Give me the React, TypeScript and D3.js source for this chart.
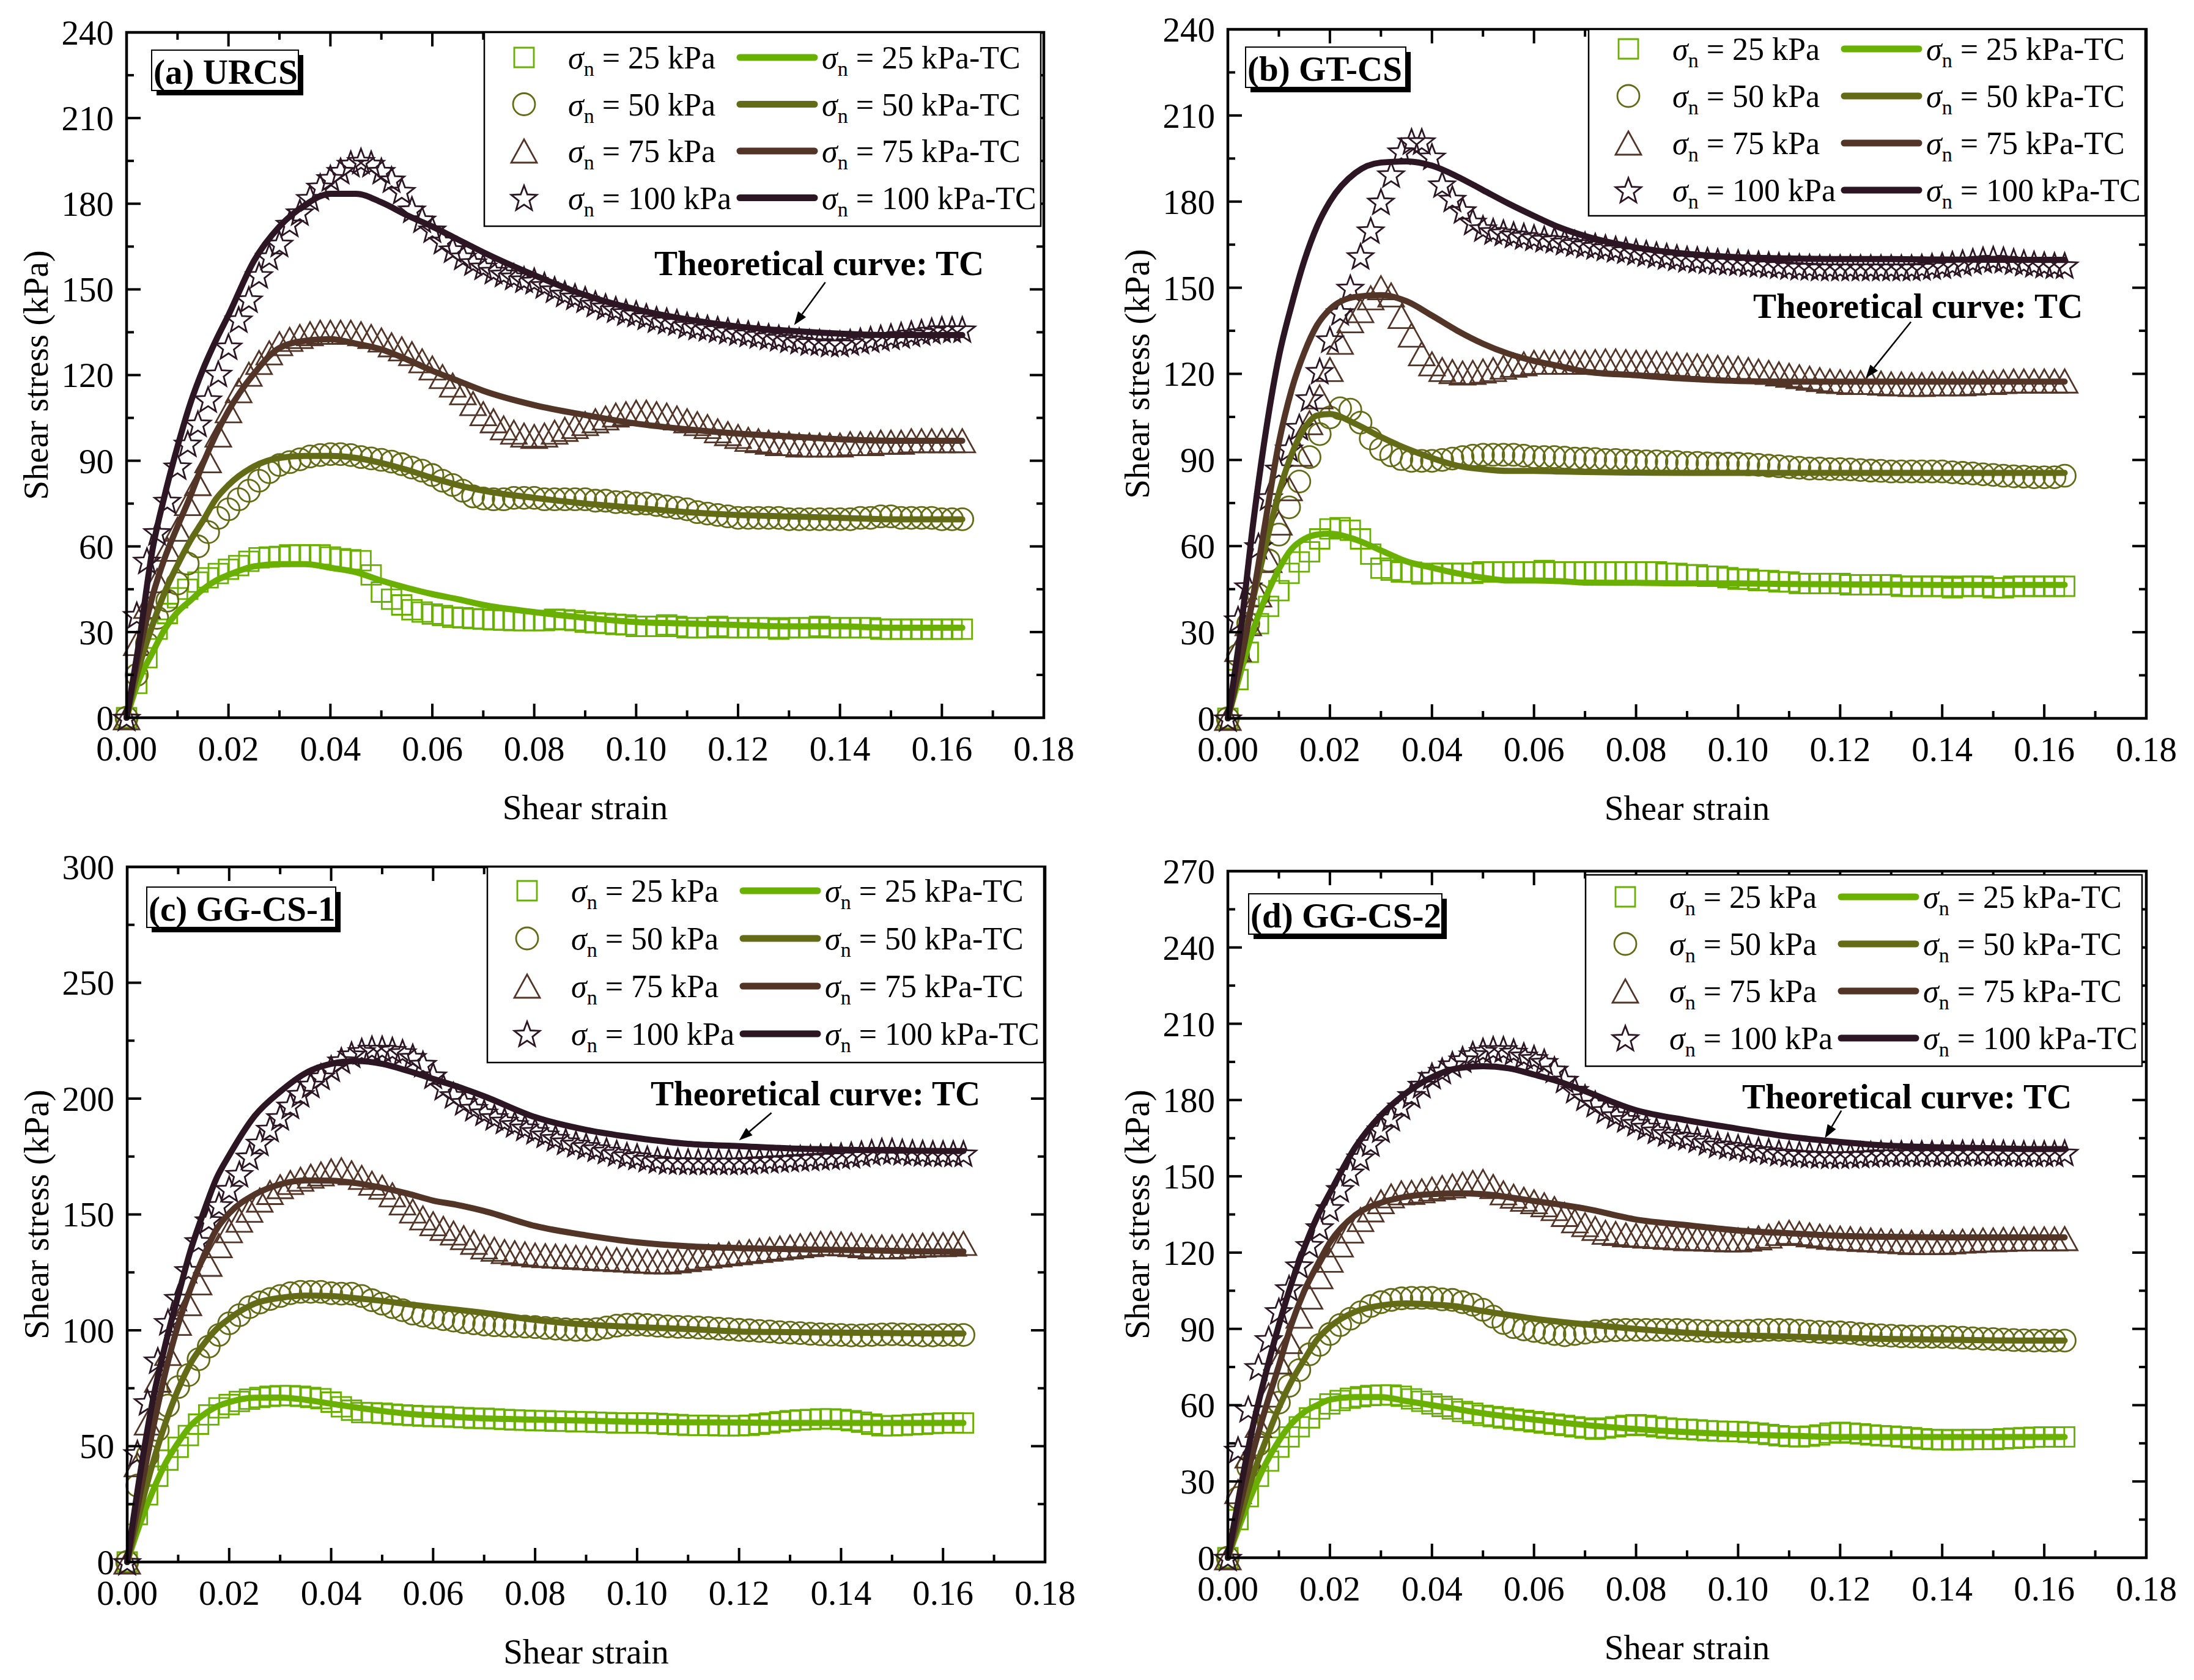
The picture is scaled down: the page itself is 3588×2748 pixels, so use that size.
import React from "react";
import * as d3 from "d3";

// shear strain of the measured points and of the theoretical curves
const strain = [
  0, 0.002, 0.004, 0.006, 0.008, 0.01, 0.012, 0.014, 0.016, 0.018,
  0.02, 0.022, 0.024, 0.026, 0.028, 0.03, 0.032, 0.034, 0.036, 0.038,
  0.04, 0.042, 0.044, 0.046, 0.048, 0.05, 0.052, 0.054, 0.056, 0.058,
  0.06, 0.062, 0.064, 0.066, 0.068, 0.07, 0.072, 0.074, 0.076, 0.078,
  0.08, 0.082, 0.084, 0.086, 0.088, 0.09, 0.092, 0.094, 0.096, 0.098,
  0.1, 0.102, 0.104, 0.106, 0.108, 0.11, 0.112, 0.114, 0.116, 0.118,
  0.12, 0.122, 0.124, 0.126, 0.128, 0.13, 0.132, 0.134, 0.136, 0.138,
  0.14, 0.142, 0.144, 0.146, 0.148, 0.15, 0.152, 0.154, 0.156, 0.158,
  0.16, 0.162, 0.164,
];
const tcStrain = [
  0, 0.0025, 0.005, 0.0075, 0.01, 0.0125, 0.015, 0.0175, 0.02,
  0.025, 0.03, 0.035, 0.04, 0.045, 0.05, 0.055, 0.06, 0.065, 0.07,
  0.08, 0.09, 0.1, 0.11, 0.12, 0.13, 0.14, 0.15, 0.16, 0.164,
];

const loads = ["25", "50", "75", "100"];
const colors = ["#69b000", "#646b17", "#533528", "#2c1623"];
const xTicks = [0, 0.02, 0.04, 0.06, 0.08, 0.1, 0.12, 0.14, 0.16, 0.18];
const yTicks240 = [0, 30, 60, 90, 120, 150, 180, 210, 240];
const yTicks300 = [0, 50, 100, 150, 200, 250, 300];
const yTicks270 = [0, 30, 60, 90, 120, 150, 180, 210, 240, 270];

// (a) URCS
const aExp25 = [
  0, 12, 21, 31, 36.5, 42, 45, 47.5, 49, 50.5,
  52, 53.3, 54.8, 56, 56.3, 56.5, 57, 57, 57, 57,
  56.3, 55.7, 55.3, 55, 50, 44, 41.5, 39.5, 37.8, 37,
  36.3, 35.8, 35.2, 35, 34.7, 34.5, 34.3, 34.2, 34, 34,
  34, 34, 34.5, 34.3, 34, 33.5, 33.2, 33, 32.7, 32.5,
  32, 32, 32, 32.5, 32, 31.5, 31.5, 31.5, 32, 31.5,
  31.5, 31.5, 31.5, 31.5, 31, 31.5, 31.5, 31.5, 32, 31.5,
  31.5, 31.5, 31.5, 31.5, 31, 31, 31, 31, 31, 31,
  31, 31, 31,
];
const aExp50 = [
  0, 15, 26, 35, 41, 47, 54, 60, 65, 70,
  73, 76.5, 79.5, 83, 86, 88.5, 89.5, 90.5, 91.5, 92,
  92.3, 92.3, 92, 91.3, 90.8, 90.3, 89.7, 88.8, 87.6, 86.5,
  85, 83, 81.5, 79.5, 77.5, 76.8, 76.5, 76.5, 77, 77,
  77, 76.5, 76.5, 76.5, 76.5, 76.5, 76, 76, 75.5, 75.5,
  75, 75, 74.5, 74, 73.5, 73, 72, 71.5, 71, 70.5,
  70, 70, 70, 70, 70, 69.5, 69.5, 69.5, 69.5, 69.5,
  69.5, 69.5, 70, 70, 70.5, 70.5, 70, 70, 70, 70,
  69.5, 69.5, 69.5,
];
const aExp75 = [
  0, 26, 39, 48, 59, 66, 75, 82, 90, 99,
  107.5, 114.5, 120.3, 124.4, 127.8, 131, 132.5, 133.5, 134.5, 135,
  135, 135, 135, 134.5, 133.5, 132.3, 130.6, 129.2, 127.5, 125,
  122.5, 119.5, 116.5, 113.8, 110, 106.5, 104, 101.5, 100, 99,
  98.5, 99, 100, 101, 102, 103, 104, 105, 106, 106.5,
  107, 107, 106.5, 106, 105, 104, 103, 102, 100.5, 99.5,
  98.5, 97.5, 97, 96.5, 96, 96, 95.5, 95.5, 95.5, 95.5,
  95.5, 96, 96, 96, 96.5, 96.5, 96.5, 97, 97, 97,
  97, 97, 97,
];
const aExp100 = [
  0, 36, 55, 65, 76, 88, 96, 103, 111.5, 120.5,
  130, 139.5, 146.5, 155, 161.5, 166, 173, 177, 182, 186,
  189, 191.5, 194, 195, 194, 191.5, 188.5, 184.5, 178, 174.5,
  171, 167, 164, 161.5, 159.5, 158, 156.5, 155.5, 154.5, 153.5,
  153, 151.5, 150, 148.5, 147.5, 146.5, 145, 144, 143, 142,
  141.5, 140.5, 139.5, 139, 138.5, 137.5, 137, 136.5, 136, 135.5,
  135, 134.5, 134, 133.5, 133, 132.5, 132, 131.5, 131.5, 131,
  131, 131.5, 132, 132.5, 133, 133.5, 134, 134.5, 135, 135.5,
  136, 136, 136,
];
const aTc25 = [0, 13.5, 22.5, 31, 37, 41, 45, 48, 50, 53, 53.8, 53.8, 52.5, 51, 48, 45.5, 43.3, 41.5, 39.5, 37, 35, 33.5, 33, 32.5, 32, 32, 31.5, 31.5, 31.5];
const aTc50 = [0, 18, 32, 44, 53.5, 62, 69, 76.5, 81.5, 88, 91, 91.7, 91.7, 91, 89.2, 86.8, 84, 81.5, 79.5, 77, 75, 73.5, 72, 71, 70.5, 70, 69.5, 69.5, 69.5];
const aTc75 = [0, 23, 42, 56, 67, 77.5, 89, 99, 107.5, 120.5, 129.5, 132, 132.6, 131, 129, 125.5, 121.5, 118, 114.5, 109.5, 106, 103, 101, 99.5, 98.5, 97.5, 97, 97, 97];
const aTc100 = [0, 27, 58, 78, 95, 110, 122, 132, 141, 160, 172, 179.5, 183.5, 183.5, 180.5, 176, 172, 167.5, 163, 155, 148, 143, 139.5, 137, 135.5, 134.5, 134, 134, 134];

// (b) GT-CS
const bExp25 = [
  0, 13.5, 23, 33, 39, 44.5, 50.5, 54.5, 58, 62.5,
  66, 66.4, 65.5, 62.5, 57.2, 52.3, 51.6, 51, 50.9, 50.3,
  50.5, 50.5, 50.5, 50.5, 50.5, 51, 51, 51, 51, 51,
  51, 51.5, 51, 51, 51, 51, 51, 51, 51, 51,
  51, 51, 51, 50.5, 50.5, 50, 50, 49.5, 49.5, 49,
  48.5, 48.5, 48, 48, 47.5, 47.5, 47, 47, 47, 47,
  47, 46.5, 46.5, 46.5, 46.5, 46.5, 46, 46, 46, 46,
  46, 45.5, 46, 46, 46, 45.5, 45.5, 46, 46, 46,
  46, 46, 46,
];
const bExp50 = [
  0, 22, 33, 43, 55, 64, 73.5, 82.5, 91, 99,
  104.8, 108, 107.5, 103, 97.5, 93.8, 91.6, 90.3, 89.7, 89.7,
  89.7, 90, 90.5, 91, 91.5, 91.8, 91.8, 91.8, 91.8, 91.5,
  91, 91, 91, 90.8, 90.5, 90.5, 90.3, 90, 90, 89.8,
  89.6, 89.5, 89.5, 89.3, 89.3, 89, 89, 88.8, 88.7, 88.7,
  88.7, 88.5, 88.3, 88, 87.8, 87.5, 87.3, 87, 87, 86.8,
  86.8, 86.7, 86.5, 86.3, 86.2, 86, 86, 86, 86, 86,
  86, 85.7, 85.5, 85.3, 85, 84.8, 84.5, 84.3, 84.2, 84,
  84, 84, 84.5,
];
const bExp75 = [
  0, 24, 33, 43, 55, 68, 80, 92, 103, 112,
  121.5, 131, 138.5, 142, 146.5, 150, 147.5, 140, 133.5, 127,
  123.5, 121.5, 120.8, 120.3, 120.5, 121, 121.5, 122.3, 123, 123.5,
  124, 124, 124, 124, 124, 124, 124.3, 124.5, 124.5, 124.3,
  124, 124, 123.8, 123.5, 123.3, 123, 122.8, 122.5, 122.3, 122,
  122, 121.5, 121, 120.5, 120, 119.5, 119, 118.5, 118, 117.5,
  117.3, 117, 117, 117, 116.8, 116.5, 116.5, 116.3, 116.3, 116.5,
  116.5, 116.5, 116.5, 116.8, 117, 117, 117.3, 117.5, 117.5, 117.5,
  117.5, 117.5, 117.5,
];
const bExp100 = [
  0, 34.5, 46, 60, 77, 87, 94, 101.5, 111.5, 121,
  132, 141.5, 150, 161, 170, 180, 189.5, 197.5, 201, 201,
  195.7, 186, 181, 177, 173, 170.7, 169.7, 169.2, 168.5, 168,
  167.5, 167, 166.7, 166, 165.5, 165, 164.5, 164, 163.5, 163,
  162.5, 162, 161.5, 161, 160.5, 160, 159.8, 159.5, 159.2, 159,
  158.8, 158.5, 158.3, 158, 157.8, 157.5, 157.3, 157.2, 157, 157,
  157, 157, 157, 157, 157, 157, 157, 157, 157.2, 157.5,
  157.8, 158.2, 158.7, 159.2, 159.7, 160, 159.7, 159.2, 158.7, 158.3,
  158, 157.8, 157.8,
];
const bTc25 = [0, 16, 31, 42.5, 52, 59, 62.5, 64, 64.3, 62.3, 58.5, 54.7, 52.5, 50.5, 49, 48, 48, 47.8, 47.3, 47.2, 47, 47, 46.8, 46.7, 46.6, 46.5, 46.5, 46.5, 46.5];
const bTc50 = [0, 22, 42, 61, 78.5, 92, 101, 105.5, 106, 102.6, 98, 94, 90.7, 88, 86.8, 86.2, 86.2, 86, 85.8, 85.6, 85.5, 85.5, 85.5, 85.5, 85.5, 85.5, 85.5, 85.5, 85.5];
const bTc75 = [0, 19.5, 43, 70, 96, 114.5, 127.5, 137, 142.5, 146.8, 147.4, 145.3, 140.3, 135, 130.5, 127, 124.5, 122.7, 120.8, 119.5, 118.3, 117.5, 117.3, 117.3, 117.3, 117.3, 117.3, 117.3, 117.3];
const bTc100 = [0, 30.5, 68.5, 100.5, 126, 144, 159.5, 171.5, 180, 190, 193.6, 194, 192.5, 188.7, 184, 179.3, 175, 171, 168, 164, 161.8, 160.6, 160.2, 160, 160, 159.8, 159.7, 159.7, 159.7];

// (c) GG-CS-1
const cExp25 = [
  0, 20.5, 29, 37, 44, 49.5, 54.6, 59.5, 63.5, 66.5,
  68, 69.3, 70.3, 71, 71.5, 71.8, 71.8, 71.5, 71, 70.5,
  69, 67, 65.5, 64.5, 64.4, 64.2, 63.8, 63.5, 63.2, 63,
  62.8, 62.8, 62.5, 62.3, 62, 62, 61.8, 61.5, 61.3, 61.2,
  61, 61, 60.8, 60.7, 60.5, 60.5, 60.3, 60.2, 60, 60,
  60, 60, 59.8, 59.5, 59.3, 59, 59, 59, 58.8, 58.8,
  58.8, 59, 59.5, 60, 60.5, 61, 61.3, 61.5, 61.8, 61.8,
  61.5, 61, 60.3, 59.5, 58.8, 58.8, 59, 59.3, 59.5, 59.8,
  60, 60, 60,
];
const cExp50 = [
  0, 33, 46, 57, 67.5, 75.5, 80.7, 87.5, 93, 98,
  103, 106.5, 110, 112, 113.5, 114.8, 116, 116.6, 116.6, 116.6,
  116, 115.8, 115.8, 114.8, 113, 111.5, 110, 108.7, 107.2, 106.3,
  105.5, 104.8, 104.2, 103.5, 103, 102.5, 102.2, 102, 101.8, 101.6,
  101.4, 101, 100.7, 100.4, 100.2, 100.2, 100.5, 101.2, 102, 102.4,
  102.5, 102.3, 102, 101.7, 101.5, 101.4, 101.2, 101, 100.7, 100.5,
  100.2, 100, 99.7, 99.5, 99.2, 99, 98.8, 98.5, 98.3, 98.1,
  98, 97.8, 97.8, 98, 98.2, 98.3, 98.2, 98, 97.8, 97.8,
  98, 98, 98,
];
const cExp75 = [
  0, 42, 60, 78.5, 90, 103, 111.5, 120.5, 128.5, 136.5,
  143, 147.5, 151.8, 156.2, 159.5, 162, 163.8, 165.2, 166.5, 167.5,
  168.8, 169.3, 168, 166, 163.5, 161.8, 158.5, 155, 151.5, 148.5,
  146, 144, 142, 140, 138, 136, 135, 134, 133.5, 133,
  132.5, 132.2, 132, 131.8, 131.5, 131.3, 131, 130.8, 130.5, 130.3,
  130, 129.8, 129.5, 129.5, 130, 130.5, 131.2, 132, 132.5, 133,
  133.5, 134, 134.5, 135, 135.5, 136, 136.5, 137, 137.5, 137.5,
  137.3, 137, 136.5, 136, 136, 136, 136.3, 136.5, 136.8, 137,
  137, 137.2, 137.5,
];
const cExp100 = [
  0, 47, 69, 87, 103.6, 114, 126, 138.5, 147.5, 154,
  161, 167.5, 175, 181, 187, 192, 197, 202, 206, 209.5,
  213, 216.5, 219, 220.5, 221.5, 221.5, 221, 220, 218, 215,
  210, 205, 201.5, 198.5, 196, 194, 192, 190.5, 189, 187.5,
  186, 184.5, 183, 181.5, 180.5, 179.5, 178.5, 177.5, 176.5, 175.5,
  175, 174, 173.5, 173, 173, 172.8, 172.8, 172.8, 172.8, 172.8,
  172.8, 173, 173.3, 173.5, 173.8, 174, 174.3, 174.5, 174.8, 175,
  175.3, 175.7, 176.2, 176.8, 177.4, 177.4, 177, 176.7, 176.5, 176.3,
  176.3, 176.3, 176.3,
];
const cTc25 = [0, 16.5, 30.5, 42.5, 51.5, 59, 63.6, 67, 69, 70.9, 71, 70, 68.3, 66.7, 65.2, 64, 63.2, 62.5, 62, 61.5, 61, 60.5, 60.3, 60.2, 60, 60, 60, 60, 60];
const cTc50 = [0, 22, 42.5, 60, 74.5, 86, 94, 100.5, 105, 111.5, 114, 115, 114.8, 113.8, 112.7, 111.3, 110, 108.8, 107.5, 104.5, 102.5, 101.4, 100.5, 99.5, 99.2, 99, 98.8, 98.6, 98.6];
const cTc75 = [0, 29, 57, 82, 102.5, 118.5, 132, 143.5, 150.5, 158.6, 163, 164.7, 164.6, 163.5, 161.5, 159, 156, 154, 151.5, 145, 141, 138, 136.3, 135.5, 135, 134.7, 134.3, 134, 134];
const cTc100 = [0, 37.5, 69.5, 94, 115, 135, 151, 165.5, 175.5, 192.5, 203, 211, 215, 216.2, 215, 212, 208.5, 205, 201, 192, 186.5, 183, 180.5, 179.5, 178.5, 178, 177.6, 177.4, 177.4];

// (d) GG-CS-2
const dExp25 = [
  0, 15, 24, 32, 38, 43.5, 47.5, 51.5, 55, 58.5,
  60.5, 61.8, 62.7, 63.3, 63.8, 64, 64, 63.5, 62.5, 61.5,
  60.5, 59.5, 58.5, 57.5, 56.8, 56, 55.5, 55, 54.5, 54,
  53.5, 53, 52.5, 52, 51.5, 51, 50.5, 51, 51.5, 52,
  52.3, 52, 51.5, 51, 50.7, 50.5, 50.3, 50, 49.8, 49.7,
  49.6, 49.3, 49, 48.5, 48, 47.7, 47.5, 47.8, 48.3, 49,
  49.3, 49, 48.7, 48.3, 48, 47.8, 47.5, 47.2, 46.8, 46.5,
  46.4, 46.4, 46.4, 46.5, 46.5, 46.5, 46.8, 47, 47.2, 47.4,
  47.5, 47.5, 47.5,
];
const dExp50 = [
  0, 23.5, 35.5, 44.5, 53, 61, 67.6, 73.8, 80, 83.7,
  88, 91.5, 94, 96.5, 99, 100.5, 101.4, 102, 102.2, 102.2,
  102.2, 101.6, 101.4, 100.5, 99.5, 97.5, 94.8, 92.3, 90.7, 89.8,
  89.2, 88.6, 88, 87.5, 88, 88.5, 89, 89.3, 89.5, 89.6,
  89.6, 89.6, 89.6, 89.6, 89.6, 89.5, 89.3, 89.1, 89, 89,
  89, 89.2, 89.4, 89.6, 89.6, 89.5, 89.3, 89, 88.8, 88.6,
  88.6, 88.4, 88, 87.7, 87.5, 87.3, 87.1, 87, 86.9, 86.9,
  86.9, 86.7, 86.5, 86.3, 86.1, 86, 85.8, 85.6, 85.5, 85.4,
  85.4, 85.4, 85.4,
];
const dExp75 = [
  0, 26, 40, 52, 64, 77, 85, 95, 102.5, 110.5,
  117, 123, 128.5, 133, 136.8, 140, 142.3, 143.5, 143.7, 144.3,
  145, 145.6, 146.2, 147, 147.6, 148, 146, 143.5, 142.2, 141,
  140, 138.8, 137.3, 135, 132.5, 131, 129.5, 128, 127.5, 127,
  126.8, 126.5, 126.3, 126, 125.8, 125.5, 125.5, 125.3, 125.2, 125,
  125, 125.3, 125.8, 126.5, 127.5, 128, 127.5, 127, 126.5, 126,
  125.7, 125.5, 125.2, 125, 124.8, 124.5, 124.3, 124, 124, 124,
  124, 124.2, 124.5, 124.7, 125, 125, 125.2, 125.3, 125.4, 125.4,
  125.4, 125.4, 125.5,
];
const dExp100 = [
  0, 42.5, 58.5, 75, 86, 97, 106, 115, 123, 130,
  137.5, 145, 151.5, 157.5, 163, 168.5, 173, 177.5, 182, 186,
  189.5, 191.5, 194, 196, 198, 199.3, 200, 200, 199, 197.5,
  196.5, 195, 192, 188, 184, 181, 178.5, 176, 174, 172.5,
  171, 169.5, 168, 167, 166, 165.5, 164.5, 163.5, 162.5, 162,
  161.4, 160.8, 160.3, 159.8, 159.3, 159, 158.7, 158.5, 158.3, 158.2,
  158.2, 158.3, 158.5, 158.7, 159, 159, 159, 159, 159, 159,
  159, 159, 159.2, 159.3, 159.3, 159.3, 159.2, 159, 159, 159,
  159, 159, 159.3,
];
const dTc25 = [0, 13.8, 26.5, 37.3, 46, 52.8, 57.3, 60, 62.2, 63.2, 63.2, 61.6, 60, 58.4, 56.8, 55.5, 54.3, 53.2, 52.2, 50.6, 49.4, 48.5, 48, 47.5, 47.5, 47.5, 47.5, 47.5, 47.5];
const dTc50 = [0, 16.5, 33, 46.5, 59, 69.5, 78, 85.8, 90.8, 96.8, 99.2, 100, 99.6, 98.8, 97, 95.5, 94, 92.8, 91.8, 90, 88.5, 87.5, 87, 86.5, 86, 85.8, 85.5, 85.4, 85.4];
const dTc75 = [0, 21.5, 42, 59.5, 75.5, 92, 105, 115, 124, 134.8, 139.6, 142, 143, 143.3, 143, 141.8, 140.3, 138.9, 137.3, 133, 130.8, 128.7, 127.6, 126.6, 126.2, 126, 126, 126, 126];
const dTc100 = [0, 27.5, 52.5, 73, 91.5, 108, 122, 134, 143.5, 161.5, 174, 182.8, 189, 192.5, 193.3, 192.5, 190, 187.2, 183.5, 176, 172, 168.7, 165.6, 163.5, 162, 161.4, 161, 160.7, 160.7];

const panels = [
  {
    label: "(a) URCS", exp: [aExp25, aExp50, aExp75, aExp100], tc: [aTc25, aTc50, aTc75, aTc100],
    yTicks: yTicks240, x0: 207, x1: 1707, y0: 53, y1: 1174,
    lab: { dx: 41, dy: 29, w: 240 }, leg: { dx: 585, dy: 0, h: 317, row0: 41, gap: 76.5 },
    note: { dx: 863, dy: 397, tip: [0.131, 137.5], tail: [51, -70] },
  },
  {
    label: "(b) GT-CS", exp: [bExp25, bExp50, bExp75, bExp100], tc: [bTc25, bTc50, bTc75, bTc100],
    yTicks: yTicks240, x0: 2008, x1: 3510, y0: 48, y1: 1175,
    lab: { dx: 29, dy: 29, w: 262 }, leg: { dx: 590, dy: 0, h: 305, row0: 32, gap: 77 },
    note: { dx: 859, dy: 472, tip: [0.125, 118.5], tail: [74, -92] },
  },
  {
    label: "(c) GG-CS-1", exp: [cExp25, cExp50, cExp75, cExp100], tc: [cTc25, cTc50, cTc75, cTc100],
    yTicks: yTicks300, x0: 208, x1: 1709, y0: 1418, y1: 2555,
    lab: { dx: 32, dy: 33, w: 309 }, leg: { dx: 589, dy: 0, h: 320, row0: 39, gap: 78 },
    note: { dx: 856, dy: 390, tip: [0.12, 182], tail: [53, -45] },
  },
  {
    label: "(d) GG-CS-2", exp: [dExp25, dExp50, dExp75, dExp100], tc: [dTc25, dTc50, dTc75, dTc100],
    yTicks: yTicks270, x0: 2008, x1: 3510, y0: 1425, y1: 2548,
    lab: { dx: 34, dy: 37, w: 316 }, leg: { dx: 585, dy: 6, h: 313, row0: 36, gap: 77 },
    note: { dx: 841, dy: 388, tip: [0.117, 165], tail: [27, -45] },
  },
];

const FONT = "'Liberation Serif', 'Times New Roman', serif";

function starPath(R: number) {
  const r = R * 0.42;
  const pts: string[] = [];
  for (let k = 0; k < 10; k++) {
    const a = (-90 + 36 * k) * (Math.PI / 180);
    const rr = k % 2 === 0 ? R : r;
    pts.push(`${(rr * Math.cos(a)).toFixed(2)},${(rr * Math.sin(a) + 2).toFixed(2)}`);
  }
  return "M" + pts.join("L") + "Z";
}

const markerPaths = [
  "M-16,-16h32v32h-32Z",
  "M18,0A18,18 0 1 1 -18,0A18,18 0 1 1 18,0Z",
  "M0,-19L21,19L-21,19Z",
  starPath(22),
];

const Sigma = ({ x, y, text }: { x: number; y: number; text: string }) => (
  <text x={x} y={y} fontSize={52} style={{ whiteSpace: "pre" }}>
    <tspan fontStyle="italic">σ</tspan>
    <tspan fontSize={34} dy={12}>n</tspan>
    <tspan dy={-12}>{text}</tspan>
  </text>
);

function Panel({ p }: { p: (typeof panels)[number] }) {
  const x = d3.scaleLinear().domain([0, 0.18]).range([p.x0, p.x1]);
  const yMax = p.yTicks[p.yTicks.length - 1];
  const y = d3.scaleLinear().domain([0, yMax]).range([p.y1, p.y0]);
  const line = d3
    .line<number>()
    .x((_, i) => x(tcStrain[i]))
    .y((d) => y(d))
    .curve(d3.curveMonotoneX);
  const xMinor = d3.pairs(xTicks, (a, b) => (a + b) / 2);
  const yMinor = d3.pairs(p.yTicks, (a, b) => (a + b) / 2);
  const cx = (p.x0 + p.x1) / 2;
  const cy = (p.y0 + p.y1) / 2;

  const tipX = x(p.note.tip[0]);
  const tipY = y(p.note.tip[1]);
  const tailX = tipX + p.note.tail[0];
  const tailY = tipY + p.note.tail[1];
  const ang = Math.atan2(tipY - tailY, tipX - tailX);
  const hl = 22, hw = 8;
  const bx = tipX - hl * Math.cos(ang), by = tipY - hl * Math.sin(ang);
  const head = `M${tipX},${tipY}L${bx - hw * Math.sin(ang)},${by + hw * Math.cos(ang)}L${bx + hw * Math.sin(ang)},${by - hw * Math.cos(ang)}Z`;

  const L = { x: p.x0 + p.leg.dx, y: p.y0 + p.leg.dy };
  const B = { x: p.x0 + p.lab.dx, y: p.y0 + p.lab.dy };

  return (
    <g>
      {/* measured points */}
      {p.exp.map((vals, k) => (
        <g key={"e" + k} fill="none" stroke={colors[k]} strokeWidth={2.8}>
          {vals.map((v, i) => (
            <path key={i} d={markerPaths[k]} transform={`translate(${x(strain[i])},${y(v)})`} />
          ))}
        </g>
      ))}
      {/* theoretical curves */}
      {p.tc.map((vals, k) => (
        <path key={"t" + k} d={line(vals) || ""} fill="none" stroke={colors[k]} strokeWidth={10} strokeLinecap="round" strokeLinejoin="round" />
      ))}

      {/* frame and ticks */}
      <rect x={p.x0} y={p.y0} width={p.x1 - p.x0} height={p.y1 - p.y0} fill="none" stroke="#000" strokeWidth={4.5} />
      <g stroke="#000" strokeWidth={4}>
        {xTicks.map((t) => (
          <g key={"xt" + t}>
            <line x1={x(t)} x2={x(t)} y1={p.y1} y2={p.y1 - 23} />
            <line x1={x(t)} x2={x(t)} y1={p.y0} y2={p.y0 + 23} />
          </g>
        ))}
        {xMinor.map((t) => (
          <g key={"xm" + t}>
            <line x1={x(t)} x2={x(t)} y1={p.y1} y2={p.y1 - 12} />
            <line x1={x(t)} x2={x(t)} y1={p.y0} y2={p.y0 + 12} />
          </g>
        ))}
        {p.yTicks.map((t) => (
          <g key={"yt" + t}>
            <line x1={p.x0} x2={p.x0 + 23} y1={y(t)} y2={y(t)} />
            <line x1={p.x1} x2={p.x1 - 23} y1={y(t)} y2={y(t)} />
          </g>
        ))}
        {yMinor.map((t) => (
          <g key={"ym" + t}>
            <line x1={p.x0} x2={p.x0 + 12} y1={y(t)} y2={y(t)} />
            <line x1={p.x1} x2={p.x1 - 12} y1={y(t)} y2={y(t)} />
          </g>
        ))}
      </g>
      <g fontSize={57}>
        {xTicks.map((t) => (
          <text key={"xl" + t} x={x(t)} y={p.y1 + 70} textAnchor="middle">{d3.format(".2f")(t)}</text>
        ))}
        {p.yTicks.map((t) => (
          <text key={"yl" + t} x={p.x0 - 21} y={y(t)} dy="0.35em" textAnchor="end">{t}</text>
        ))}
        <text x={cx} y={p.y1 + 166} textAnchor="middle">Shear strain</text>
        <text transform={`translate(${p.x0 - 129},${cy}) rotate(-90)`} textAnchor="middle">Shear stress (kPa)</text>
      </g>

      {/* panel label */}
      <rect x={B.x + 8} y={B.y + 8} width={p.lab.w} height={66} fill="#000" />
      <rect x={B.x} y={B.y} width={p.lab.w} height={66} fill="#fff" stroke="#000" strokeWidth={2} />
      <text x={B.x + 3} y={B.y + 55} fontSize={57} fontWeight="bold">{p.label}</text>

      {/* legend */}
      <g transform={`translate(${L.x},${L.y})`}>
        <rect width={910} height={p.leg.h} fill="#fff" stroke="#000" strokeWidth={2.5} />
        {loads.map((ld, k) => {
          const ry = p.leg.row0 + k * p.leg.gap;
          return (
            <g key={"lg" + k}>
              <path d={markerPaths[k]} transform={`translate(65,${ry})`} fill="none" stroke={colors[k]} strokeWidth={2.8} />
              <Sigma x={137} y={ry + 18} text={` = ${ld} kPa`} />
              <line x1={418} x2={540} y1={ry} y2={ry} stroke={colors[k]} strokeWidth={11} strokeLinecap="round" />
              <Sigma x={552} y={ry + 18} text={` = ${ld} kPa-TC`} />
            </g>
          );
        })}
      </g>

      {/* annotation */}
      <text x={p.x0 + p.note.dx} y={p.y0 + p.note.dy} fontSize={57} fontWeight="bold">Theoretical curve: TC</text>
      <line x1={tailX} y1={tailY} x2={bx} y2={by} stroke="#000" strokeWidth={2.5} />
      <path d={head} fill="#000" />
    </g>
  );
}

export default function App() {
  return (
    <svg
      width={3588}
      height={2748}
      viewBox="0 0 3588 2748"
      style={{ position: "absolute", left: 0, top: 0, fontFamily: FONT }}
    >
      <rect width={3588} height={2748} fill="#fff" />
      {panels.map((p) => (
        <Panel key={p.label} p={p} />
      ))}
    </svg>
  );
}
